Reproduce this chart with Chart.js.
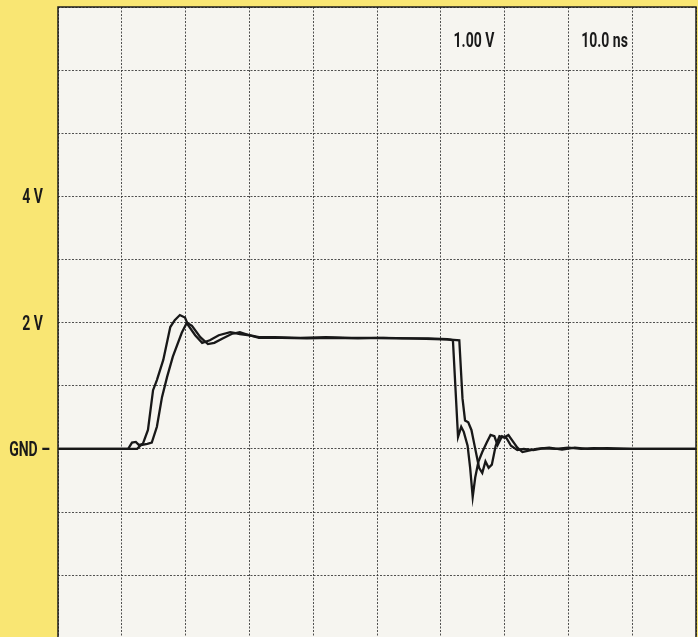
<!DOCTYPE html>
<html lang="en">
<head>
    <meta charset="UTF-8">
    <title>Signal edges - 1.00 V / 10.0 ns</title>
    <style>
        html, body { margin: 0; padding: 0; background: #f9e673; }
        .scope { position: relative; width: 698px; height: 637px; }
    </style>
</head>
<body>
    <div class="scope">
        <canvas id="scopeChart"></canvas>
    </div>

    <script src="https://cdn.jsdelivr.net/npm/chart.js@4/dist/chart.umd.min.js"></script>
    <script>
        // Captured waveforms: time in ns, level in volts
        const traceATime  = [0, 11.0, 11.6, 12.2, 12.7, 13.3, 14.1, 14.9, 15.5, 16.5,
                             17.6, 18.3, 19.1, 19.9, 20.4, 21.5, 22.6, 23.8, 25.2, 27.0,
                             28.5, 30.0, 31.5, 34, 38, 42, 46, 50, 54, 58,
                             61.0, 61.9, 62.7, 63.2, 63.6, 64.2, 64.6, 65.0, 65.4, 65.9,
                             66.5, 67.2, 67.8, 68.4, 68.9, 69.6, 70.3, 71.0, 72.0, 73.0,
                             74.5, 76, 78, 80, 82, 84, 87, 100];
        const traceAVolts = [0, 0, 0.1, 0.11, 0.06, 0.08, 0.3, 0.93, 1.09, 1.41,
                             1.93, 2.04, 2.12, 2.08, 1.96, 1.8, 1.68, 1.72, 1.8, 1.85,
                             1.82, 1.8, 1.77, 1.77, 1.76, 1.77, 1.76, 1.76, 1.75, 1.75,
                             1.74, 1.72, 0.19, 0.35, 0.27, 0.05, -0.3, -0.76, -0.45, -0.2,
                             -0.05, 0.1, 0.22, 0.2, 0.06, 0.2, 0.17, 0.05, -0.02, 0.0,
                             -0.02, 0.01, 0.0, 0.02, 0.0, 0.01, 0.0, 0.0];

        const traceBTime  = [0, 12.4, 13.0, 14.0, 14.7, 15.5, 16.3, 17.1, 18.0, 19.4,
                             20.2, 21.0, 22.3, 23.5, 24.5, 25.8, 27.2, 28.5, 30.0, 31.5,
                             35, 39, 43, 47, 51, 55, 59, 61.5, 62.9, 63.4,
                             63.8, 64.3, 64.8, 65.4, 66.0, 66.5, 67.0, 67.5, 68.0, 68.6,
                             69.2, 69.9, 70.6, 71.3, 72.0, 72.8, 73.6, 75, 77, 79,
                             81, 83, 86, 90, 100];
        const traceBVolts = [0, 0, 0.06, 0.08, 0.1, 0.35, 0.82, 1.14, 1.46, 1.84,
                             2.0, 1.95, 1.77, 1.66, 1.68, 1.75, 1.82, 1.85, 1.8, 1.76,
                             1.76, 1.75, 1.76, 1.75, 1.76, 1.75, 1.74, 1.73, 1.72, 0.8,
                             0.45, 0.42, 0.3, 0.0, -0.3, -0.38, -0.2, -0.3, -0.25, 0.05,
                             0.2, 0.18, 0.22, 0.12, 0.02, -0.05, -0.03, 0.0, 0.02, -0.01,
                             0.02, 0.0, 0.01, 0.0, 0.0];

        // Labelled levels on the left edge
        const voltTicks  = [4, 2, 0];
        const voltLabels = ['4 V', '2 V', 'GND \u2013'];

        // Scale readouts shown inside the screen
        const readoutText  = ['1.00 V', '10.0 ns'];
        const readoutTime  = [62, 82];
        const readoutVolts = [6.37, 6.37];

        const labelFont = "bold 20px Roboto, 'Liberation Sans', sans-serif";
        const squeeze = 0.7;    // narrow the lettering like a condensed face
        const gridColor = 'rgba(50, 50, 50, 0.85)';

        function toPoints(times, volts) {
            return times.map((t, i) => ({ x: t, y: volts[i] }));
        }

        function narrowText(ctx, txt, x, y, align) {
            const w = ctx.measureText(txt).width * squeeze;
            const left = align === 'right' ? x - w : x;
            ctx.save();
            ctx.translate(left, y);
            ctx.scale(squeeze, 1);
            ctx.textAlign = 'left';
            ctx.fillText(txt, 0, 0);
            ctx.restore();
        }

        // Paper background, frame, level labels and readouts
        const screenPlugin = {
            id: 'screen',
            beforeDraw(chart) {
                const { ctx, chartArea: a } = chart;
                ctx.save();
                ctx.fillStyle = '#f6f5f0';
                ctx.fillRect(a.left, a.top, a.right - a.left, a.bottom - a.top);
                ctx.restore();
            },
            afterDraw(chart) {
                const { ctx, chartArea: a, scales } = chart;
                ctx.save();
                ctx.strokeStyle = '#1e1e1e';
                ctx.lineWidth = 1.5;
                ctx.strokeRect(a.left, a.top, a.right - a.left, a.bottom - a.top + 6);

                ctx.fillStyle = '#1a1a1a';
                ctx.font = labelFont;
                ctx.textBaseline = 'alphabetic';
                const capHalf = 7;

                voltTicks.forEach((v, i) => {
                    const y = scales.y.getPixelForValue(v) + capHalf;
                    const right = v === 0 ? a.left - 8 : a.left - 15;
                    narrowText(ctx, voltLabels[i], right, y, 'right');
                });

                readoutText.forEach((txt, i) => {
                    narrowText(ctx, txt, scales.x.getPixelForValue(readoutTime[i]),
                               scales.y.getPixelForValue(readoutVolts[i]), 'left');
                });
                ctx.restore();
            }
        };

        const ctx = document.getElementById('scopeChart').getContext('2d');
        new Chart(ctx, {
            type: 'line',
            data: {
                datasets: [{
                    label: 'Trace A',
                    data: toPoints(traceATime, traceAVolts),
                    borderColor: '#181818',
                    borderWidth: 2.3,
                    pointRadius: 0,
                    tension: 0
                }, {
                    label: 'Trace B',
                    data: toPoints(traceBTime, traceBVolts),
                    borderColor: '#181818',
                    borderWidth: 2.3,
                    pointRadius: 0,
                    tension: 0
                }]
            },
            options: {
                responsive: true,
                maintainAspectRatio: false,
                animation: false,
                layout: { padding: { top: 7, right: 2, left: 0, bottom: 0 } },
                plugins: {
                    legend: { display: false },
                    tooltip: { enabled: false }
                },
                scales: {
                    x: {
                        type: 'linear',
                        min: 0,
                        max: 100,
                        ticks: { stepSize: 10, display: false },
                        grid: { color: gridColor, lineWidth: 1, drawTicks: false },
                        border: { display: false, dash: [2, 1.5] },
                        afterFit(scale) {
                            scale.height = 0;
                            scale.paddingLeft = 0;
                            scale.paddingRight = 0;
                        }
                    },
                    y: {
                        min: -2.98,
                        max: 7,
                        ticks: { stepSize: 1, includeBounds: false, display: false },
                        grid: { color: gridColor, lineWidth: 1, drawTicks: false },
                        border: { display: false, dash: [2, 1.5] },
                        afterFit(scale) {
                            scale.width = 58;
                            scale.paddingTop = 0;
                            scale.paddingBottom = 0;
                        }
                    }
                }
            },
            plugins: [screenPlugin]
        });
    </script>
</body>
</html>
